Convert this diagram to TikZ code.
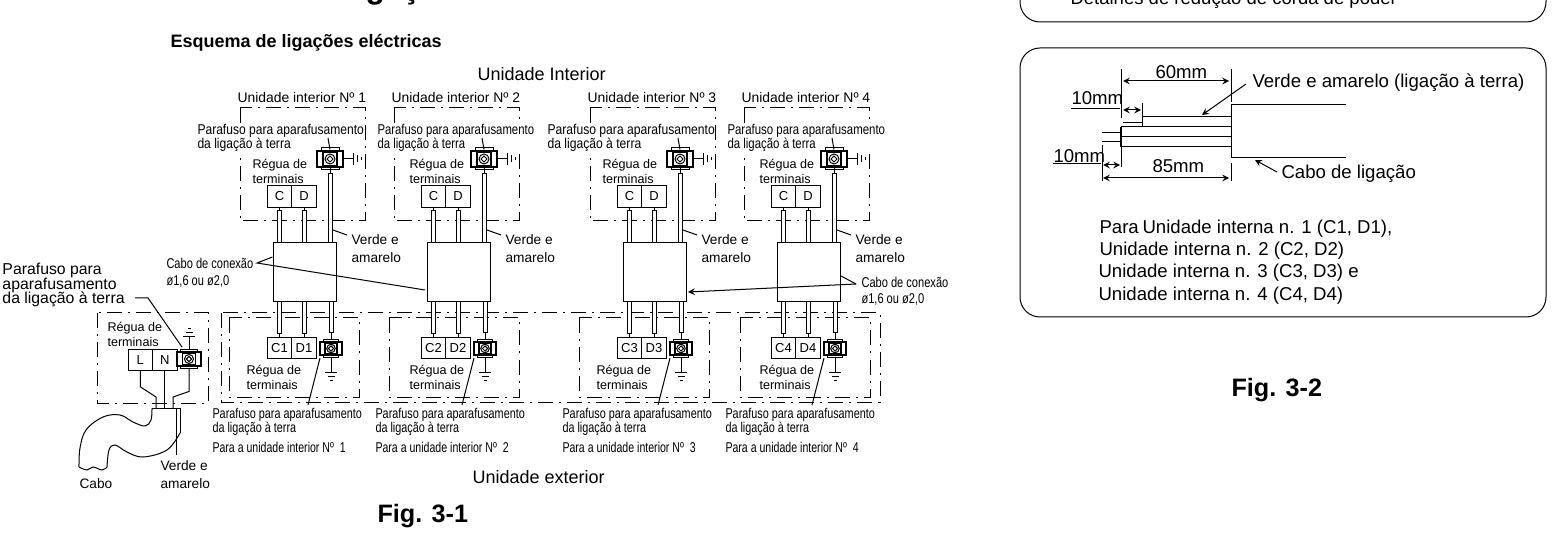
\documentclass[tikz,border=0pt]{standalone}
\usepackage{fontspec}
\usepackage{graphicx}
\setmainfont{Liberation Sans}
\newcommand{\fbig}{\fontsize{9}{10}\selectfont}
\newcommand{\fright}{\fontsize{9.3}{11}\selectfont}
\newcommand{\fmid}{\fontsize{6.85}{9}\selectfont}
\newcommand{\fterm}{\fontsize{6.5}{7.5}\selectfont}
\newcommand{\freg}{\fontsize{6.3}{7.5}\selectfont}
\newcommand{\fnarrow}{\lineskiplimit=-5pt\fontsize{7.1}{7}\selectfont}
\newcommand{\fleft}{\lineskiplimit=-5pt\fontsize{7.9}{7.25}\selectfont}
\newcommand{\ffig}{\bfseries\fontsize{12.6}{14}\selectfont}
\newcommand{\squeeze}[2]{\scalebox{#1}[1]{#2}}
\tikzset{
	lab/.style={anchor=west,inner sep=0pt,align=left},
	labb/.style={anchor=base west,inner sep=0pt},
	whitelab/.style={lab,fill=white},
	unitbox/.style={draw,dash pattern=on 7.5pt off 3pt on 1pt off 3pt},
	cell/.style={draw,inner sep=0pt,outer sep=0pt,minimum width=12.25pt,minimum height=10.75pt,font=\fterm},
	cablebox/.style={draw,inner sep=0pt,outer sep=0pt,minimum width=31.5pt,minimum height=29.5pt},
	screwnode/.style={inner sep=0pt,outer sep=0pt,minimum width=#1,minimum height=9.5pt},
	wire/.style={draw,fill=white},
	pics/screwsym/.style={code={
		\draw[fill=white] (-9,-11) rectangle (9,-8);
		\draw[fill=white] (-9,8) rectangle (9,11);
		\draw[line width=.9pt,fill=white] (-13,-8) rectangle (13,8);
		\draw[line width=.7pt] (-7,-6.5) rectangle (7,6.5);
		\draw (0,0) circle (5);
		\draw (-3,0) -- (0,-3) -- (3,0) -- (0,3) -- cycle;
	}},
	pics/groundsym/.style={code={
		\draw (-6,0) -- (6,0);
		\draw (-3.5,4) -- (3.5,4);
		\draw (-1.5,8) -- (1.5,8);
	}}
}
\begin{document}
\begin{tikzpicture}[x=.5pt,y=-.5pt,line width=.5pt,>=stealth]
	\useasboundingbox (0,0) rectangle (1556,539);
	\clip (0,0) rectangle (1556,539);

	\node[labb,font=\bfseries\fontsize{15.8}{17}\selectfont] (title) at (337,-1) {Ligação};
	\node[labb,font=\bfseries\fbig] (scheme) at (170,48) {Esquema de ligações eléctricas};
	\node[labb,font=\fbig] (indoor) at (477,81) {Unidade Interior};
	\node[labb,font=\fbig] (outdoor) at (472,483) {Unidade exterior};
	\node[labb,font=\ffig] (figa) at (377,522) {Fig. 3-1};

	% outdoor frame
	\draw[unitbox] (221,313) rectangle (880,402);

	\foreach \n/\tx/\lbx/\ltx/\ulx/\ustr/\urg/\lrg in {1/267/229/212/197/.85/252/246,2/421/389/375/377/.80/409/409,3/617/579/562/547/.855/602/596,4/771/740/725/727/.805/759/759}{
		% indoor side
		\draw[unitbox] (\tx-27,108) rectangle (\tx+98,221);
		\node[labb,font=\fontsize{6.95}{8}\selectfont] (uname\n) at (\tx-30,103) {Unidade interior Nº \n};
		\node[whitelab,font=\fnarrow] (upar\n) at (\ulx,138) {\squeeze{\ustr}{Parafuso para aparafusamento}\\\squeeze{\ustr}{da ligação à terra}};
		\node[lab,font=\freg] (ureg\n) at (\urg,171) {Régua de\\terminais};
		\node[cell] (c\n) at (\tx+12.5,196.5) {C};
		\node[cell] (d\n) at (\tx+37,196.5) {D};
		\node[screwnode=13.5pt] (s\n) at (\tx+63,159) {};
		\pic at (s\n) {screwsym};
		\coordinate (ptr\n) at (\tx+61,138);
		\draw (ptr\n) -- (s\n.north);
		\coordinate (ug\n) at (\tx+86,159);
		\draw (s\n.east) -- (ug\n);
		\pic[rotate=90] at (ug\n) {groundsym};
		% cable sheath
		\node[cablebox] (cable\n) at (\tx+37.5,272.5) {};
		\draw (c\n.south) -- ++(0,3) coordinate (cw\n);
		\draw[wire] (cw\n) ++(-2,0) rectangle ([xshift=1pt]cw\n |- cable\n.north);
		\draw (d\n.south) -- ++(0,3) coordinate (dw\n);
		\draw[wire] (dw\n) ++(-2,0) rectangle ([xshift=1pt]dw\n |- cable\n.north);
		\draw (s\n.south) -- ++(0,5) coordinate (sw\n);
		\draw[wire] (sw\n) ++(-2,0) rectangle ([xshift=1pt]sw\n |- cable\n.north);
		\node[lab,font=\fmid] (uve\n) at (\tx+84,249) {Verde e\\amarelo};
		\coordinate (vea\n) at (\tx+66,230);
		\coordinate (veb\n) at (\tx+80,235);
		\draw (vea\n) -- (veb\n);
		% outdoor side
		\draw[unitbox] (\lbx,318) rectangle (\lbx+130.5,397);
		\node[cell] (cl\n) at (\tx+12.5,348) {C\n};
		\node[cell] (dl\n) at (\tx+37,348) {D\n};
		\node[screwnode=11pt] (sl\n) at (\tx+64,348.5) {};
		\pic[scale=.85] at (sl\n) {screwsym};
		\coordinate (gl\n) at (\tx+64,372);
		\draw (sl\n.south) -- (gl\n);
		\pic at (gl\n) {groundsym};
		\draw (cl\n.north) -- ++(0,-4) coordinate (clw\n);
		\draw[wire] (clw\n) ++(-2,0) rectangle ([xshift=1pt]clw\n |- cable\n.south);
		\draw (dl\n.north) -- ++(0,-4) coordinate (dlw\n);
		\draw[wire] (dlw\n) ++(-2,0) rectangle ([xshift=1pt]dlw\n |- cable\n.south);
		\draw (sl\n.north) -- ++(0,-6) coordinate (slw\n);
		\draw[wire] (slw\n) ++(-2,0) rectangle ([xshift=1pt]slw\n |- cable\n.south);
		\node[lab,font=\freg] (lreg\n) at (\lrg,377) {Régua de\\terminais};
		\node[lab,font=\fnarrow] (lpar\n) at (\ltx,422) {\squeeze{.763}{Parafuso para aparafusamento}\\\squeeze{.763}{da ligação à terra}};
		\node[lab,font=\fnarrow] (lfor\n) at (\ltx,447) {\squeeze{.745}{Para a unidade interior Nº\ \ \n}};
		\coordinate (lptr\n) at (\tx+41,405);
		\draw (lptr\n) -- (sl\n.south west);
	}

	% connection cable labels
	\node[lab,font=\fnarrow] (caba) at (166,263) {\squeeze{.78}{Cabo de conexão}};
	\node[lab,font=\fnarrow] (cabb) at (166,281) {\squeeze{.78}{ø1,6 ou ø2,0}};
	\coordinate (cabp) at (257,263);
	\coordinate (cabq) at (272.5,257);
	\coordinate (cabr) at (425,290);
	\draw (cabq) -- (cabp) -- (cabr);
	\node[lab,font=\fnarrow] (cabc) at (861,282) {\squeeze{.78}{Cabo de conexão}};
	\node[lab,font=\fnarrow] (cabd) at (861,299) {\squeeze{.78}{ø1,6 ou ø2,0}};
	\coordinate (cabs) at (856,284);
	\coordinate (cabt) at (841,276);
	\coordinate (cabu) at (688,292);
	\draw (cabt) -- (cabs);
	\draw[->] (cabs) -- (cabu);

	% power supply side
	\draw[unitbox] (97,313) rectangle (208,403);
	\node[lab,font=\fleft] (lpar) at (2,285) {Parafuso para\\aparafusamento\\da ligação à terra};
	\node[lab,font=\freg] (lreg) at (107,334) {Régua de\\terminais};
	\node[cell] (tl) at (140.25,360) {L};
	\node[cell] (tn) at (164.75,360) {N};
	\node[screwnode=12pt] (tg) at (189,359) {};
	\pic[scale=.9] at (tg) {screwsym};
	\coordinate (tgg) at (189,337);
	\draw (tg.north) -- (tgg);
	\pic[rotate=180] at (tgg) {groundsym};
	\coordinate (lpa) at (135,298);
	\coordinate (lpb) at (148,298);
	\coordinate (lpc) at (182,347);
	\draw (lpa) -- (lpb) -- (lpc);
	\coordinate (wl) at (156,408);
	\coordinate (wn) at (164.75,408);
	\coordinate (we) at (173,408);
	\draw (tl.south) -- ++(0,16) -- (156,397) -- (wl);
	\draw (tn.south) -- (wn);
	\draw (tg.south) -- ++(0,23) -- (173,397) -- (we);
	% cable outline
	\draw (152,408) -- (180,408) -- (180,433);
	\draw plot[smooth,tension=.6] coordinates {(152,408) (151,420) (145,426) (133,422) (120,415) (103,417) (86,430) (80,448) (79,467)};
	\draw plot[smooth,tension=.7] coordinates {(79,467) (87,470) (93,467) (102,470) (107,467)};
	\draw plot[smooth,tension=.6] coordinates {(107,467) (109,450) (115,445) (127,452) (143,457) (167,450) (180,433)};
	\coordinate (vga) at (176,408);
	\coordinate (vgb) at (176,455);
	\draw (vga) -- (vgb);
	\node[labb,font=\fmid] (cabo) at (79,488) {Cabo};
	\node[lab,font=\fmid] (lve) at (160,475) {Verde e\\amarelo};

	% wire stripping detail
	\draw[rounded corners=10pt] (1020,-60) rectangle (1546,22);
	\node[labb,font=\fontsize{9.26}{10}\selectfont] (detail) at (1070,5) {Detalhes de redução de corda de poder};
	\draw[rounded corners=10pt] (1020,48) rectangle (1546,317);
	\coordinate (ea) at (1121,69);
	\coordinate (eb) at (1121,118);
	\coordinate (ec) at (1121,127);
	\coordinate (ed) at (1121,147);
	\coordinate (ee) at (1121,167);
	\coordinate (fa) at (1231,69);
	\coordinate (fb) at (1231,102);
	\coordinate (fc) at (1231,105);
	\coordinate (fd) at (1231,158);
	\coordinate (fe) at (1231,163);
	\coordinate (ff) at (1231,181);
	\coordinate (ga) at (1142,103);
	\coordinate (gb) at (1142,117);
	\coordinate (gc) at (1142,127);
	\coordinate (ha) at (1102,145);
	\coordinate (hb) at (1102,181);
	\draw (ea) -- (eb);
	\draw[line width=1pt] (ec) -- (ed);
	\draw (ed) -- (ee);
	\draw (fa) -- (fb);
	\draw (fc) -- (fd);
	\draw (fe) -- (ff);
	\draw (ga) -- (gc);
	\draw (ha) -- (hb);
	\draw (fc) -- (1346,105);
	\draw (fd) -- (1346,158);
	\draw (gb) -- (fb |- gb);
	\draw (ec) -- (fb |- ec);
	\draw (1121,137) -- (1231,137);
	\draw (ed) -- (fb |- ed);
	\draw (1123,123) -- (1142,123);
	\draw (1102,133) -- (1121,133);
	\draw (1102,142) -- (1121,142);
	\draw[<->] (1123,81) -- (1229,81);
	\draw[<->] (1123,110) -- (1141,110);
	\draw[<->] (1103,165) -- (1120,165);
	\draw[<->] (1103,178) -- (1229,178);
	\draw (1071,109) -- (1120,109);
	\draw (1053,164) -- (1101,164);
	\node[labb,font=\fright] (dsixty) at (1155,79) {60mm};
	\node[labb,font=\fright] (dtena) at (1071,105) {10mm};
	\node[labb,font=\fright] (dtenb) at (1053,163) {10mm};
	\node[labb,font=\fright] (deighty) at (1152,173) {85mm};
	\node[labb,font=\fright] (greenl) at (1252,88) {Verde e amarelo (ligação à terra)};
	\node[labb,font=\fright] (cablel) at (1281,179) {Cabo de ligação};
	\coordinate (gra) at (1246,84);
	\coordinate (grb) at (1202,115);
	\coordinate (caa) at (1277,172);
	\coordinate (cab) at (1255,160);
	\draw[->] (gra) -- (grb);
	\draw[->] (caa) -- (cab);
	\node[labb,font=\fright] (pa) at (1099,234) {Para\hspace{.2em}Unidade interna n. 1 (C1, D1),};
	\node[labb,font=\fright] (pb) at (1099,256) {Unidade interna n. 2 (C2, D2)};
	\node[labb,font=\fright] (pc) at (1098,278) {Unidade interna n. 3 (C3, D3) e};
	\node[labb,font=\fright] (pd) at (1098,300) {Unidade interna n. 4 (C4, D4)};
	\node[labb,font=\ffig] (figb) at (1231,396) {Fig. 3-2};
\end{tikzpicture}
\end{document}
